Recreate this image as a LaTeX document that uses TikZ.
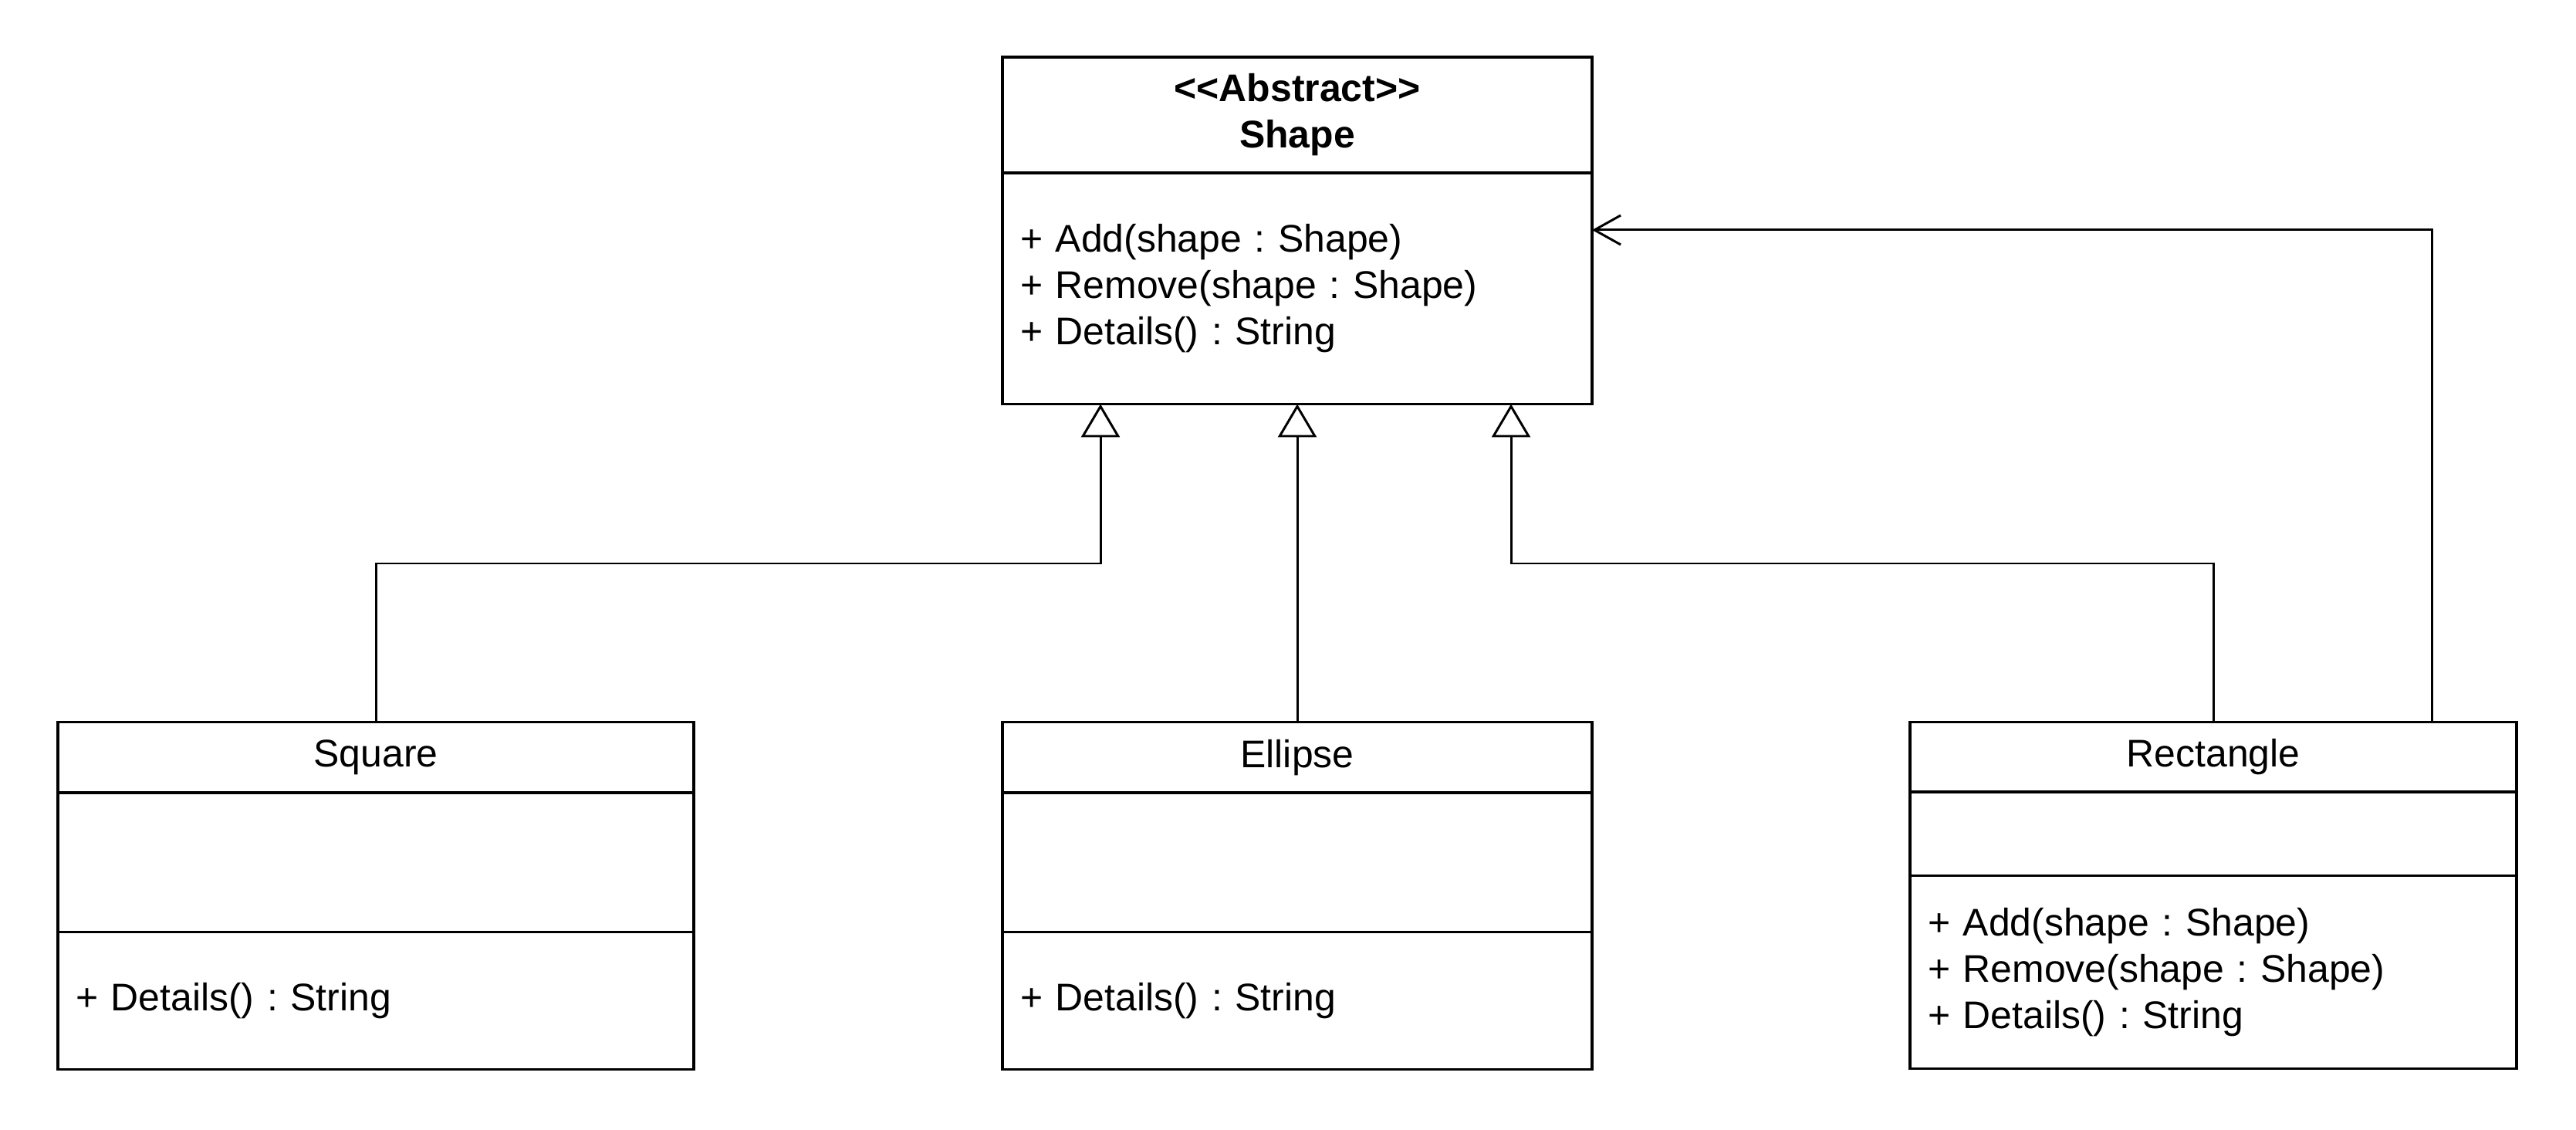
\documentclass[tikz,border=0pt]{standalone}
\usepackage{fontspec}
\setmainfont{Liberation Sans}[Ligatures=TeXOff]
\usepackage{tikz}
\usetikzlibrary{positioning,arrows.meta,calc}
\frenchspacing

\newcommand{\umlfont}{\fontsize{14.2pt}{17.1pt}\selectfont}

\tikzset{
  classbox/.style={draw, line width=1pt, outer sep=0pt, inner xsep=0.23cm, inner ysep=0pt, align=left, font=\umlfont},
  inherit/.style={line width=0.85pt, -{Triangle[open, length=0.43cm, width=0.5cm]}},
  assoc/.style={line width=0.85pt, -{Straight Barb[length=0.34cm, width=0.38cm]}}
}

\begin{document}
\begin{tikzpicture}
    \useasboundingbox (0,0) rectangle (33.38,14.63);

    % Shape (abstract)
    \node[classbox, anchor=north, text width=7.18cm, minimum height=1.5cm, align=center, font=\umlfont\bfseries] (shapeHead) at (16.81,13.89) {<<Abstract>>\\Shape};
    \node[classbox, below=0pt of shapeHead, text width=7.18cm, minimum height=2.995cm] (shapeBody) {+ Add(shape : Shape)\\+ Remove(shape : Shape)\\+ Details() : String};

    % Square
    \node[classbox, anchor=north, text width=7.78cm, minimum height=0.915cm, align=center] (squareHead) at (4.87,5.275) {Square};
    \node[classbox, below=0pt of squareHead, text width=7.78cm, minimum height=1.805cm] (squareAttr) {};
    \node[classbox, below=0pt of squareAttr, text width=7.78cm, minimum height=1.78cm] (squareOps) {+ Details() : String};

    % Ellipse
    \node[classbox, anchor=north, text width=7.18cm, minimum height=0.915cm, align=center] (ellipseHead) at (16.81,5.275) {Ellipse};
    \node[classbox, below=0pt of ellipseHead, text width=7.18cm, minimum height=1.805cm] (ellipseAttr) {};
    \node[classbox, below=0pt of ellipseAttr, text width=7.18cm, minimum height=1.78cm] (ellipseOps) {+ Details() : String};

    % Rectangle
    \node[classbox, anchor=north, text width=7.40cm, minimum height=0.906cm, align=center] (rectHead) at (28.68,5.275) {Rectangle};
    \node[classbox, below=0pt of rectHead, text width=7.40cm, minimum height=1.084cm] (rectAttr) {};
    \node[classbox, below=0pt of rectAttr, text width=7.40cm, minimum height=2.5cm] (rectOps) {+ Add(shape : Shape)\\+ Remove(shape : Shape)\\+ Details() : String};

    % Inheritance
    \coordinate (tipL) at ($(shapeBody.south west)+(1.27,0)$);
    \coordinate (tipR) at ($(shapeBody.south west)+(6.59,0)$);
    \draw[inherit] (squareHead.north) -- ++(0,2.055) -| (tipL);
    \draw[inherit] (ellipseHead.north) -- (shapeBody.south);
    \draw[inherit] (rectHead.north) -- ++(0,2.055) -| (tipR);

    % Association
    \coordinate (rectOut) at ($(rectHead.north east)+(-1.1,0)$);
    \coordinate (shapeIn) at ($(shapeBody.north east)+(0,-0.74)$);
    \draw[assoc] (rectOut) |- (shapeIn);
\end{tikzpicture}
\end{document}
